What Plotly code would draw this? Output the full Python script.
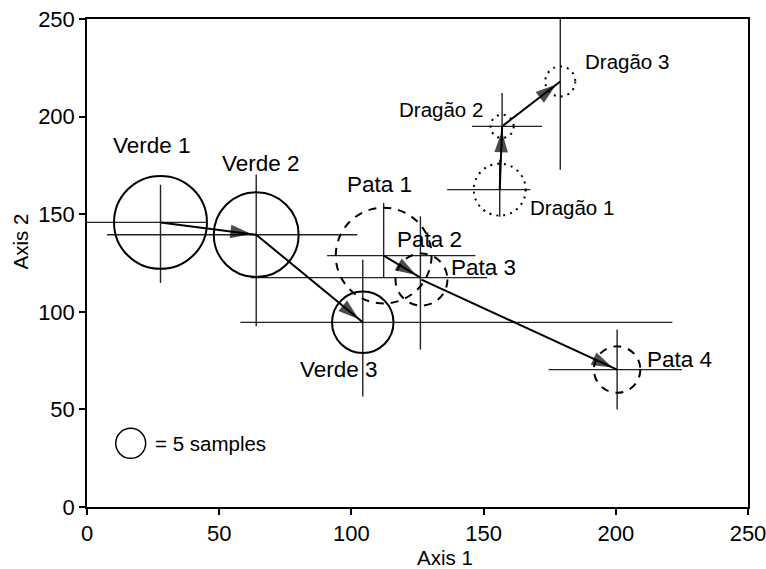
import math
import plotly.graph_objects as go

# ---------------- data ----------------
groups = ["Verde 1", "Verde 2", "Verde 3",
          "Pata 1", "Pata 2", "Pata 3", "Pata 4",
          "Dragão 1", "Dragão 2", "Dragão 3"]
site = ["Verde"] * 3 + ["Pata"] * 4 + ["Dragão"] * 3
axis1_mean = [27.8, 64.0, 104.3, 112.2, 126.1, 126.5, 200.5, 156.1, 157.0, 179.0]
axis2_mean = [145.8, 139.5, 94.6, 128.8, 117.5, 116.5, 70.4, 162.6, 195.0, 218.0]
axis1_low = [0.0, 7.6, 58.0, 90.8, 61.8, None, 174.6, 136.2, 145.6, None]
axis1_high = [45.4, 102.2, 221.4, 146.9, 151.4, None, 225.0, 167.7, 172.1, None]
axis2_low = [114.8, 92.6, 56.6, 117.4, 80.6, None, 49.9, 148.7, 188.0, 172.8]
axis2_high = [165.1, 170.3, 126.7, 155.8, 148.9, None, 90.9, 177.9, 212.1, 250.0]
n_samples = [48, 40, 21, 51, None, 15, 12, 15, 3, 5]
transitions = [("Verde 1", "Verde 2"), ("Verde 2", "Verde 3"),
               ("Pata 1", "Pata 2"), ("Pata 3", "Pata 4"),
               ("Dragão 1", "Dragão 2"), ("Dragão 2", "Dragão 3")]
legend_n = 5
axis_ticks = [0, 50, 100, 150, 200, 250]

# ---------------- styling ----------------
W, H = 766, 569
ML, MR, MT, MB = 87, 18, 19, 62
PW, PH = W - ML - MR, H - MT - MB
XR, YR = (0, 250), (0, 250)
px_x = PW / (XR[1] - XR[0])
px_y = PH / (YR[1] - YR[0])
R5 = 15.0  # circle radius (px) for 5 samples
FONT = "Liberation Sans, Arial, Helvetica, sans-serif"
circle_dash = {"Verde": "solid", "Pata": "8px,7px", "Dragão": "2px,5px"}
label_font = {"Verde": 22.5, "Pata": 22.5, "Dragão": 20.5}
label_shift = {  # (xshift, yshift) in px from group mean
    "Verde 1": (-9, 77), "Verde 2": (5, 71), "Verde 3": (-24, -47),
    "Pata 1": (-4, 71), "Pata 2": (9, 38), "Pata 3": (62, 12), "Pata 4": (62, 10),
    "Dragão 1": (72, -18), "Dragão 2": (-61, 17), "Dragão 3": (67, 20),
}


def radius_px(n):
    return R5 * math.sqrt(n / legend_n)


fig = go.Figure()

# cross-hair bars (ranges on each axis)
bx, by = [], []
for i in range(len(groups)):
    if axis1_low[i] is not None:
        bx += [axis1_low[i], axis1_high[i], None]
        by += [axis2_mean[i], axis2_mean[i], None]
    if axis2_low[i] is not None:
        bx += [axis1_mean[i], axis1_mean[i], None]
        by += [axis2_low[i], axis2_high[i], None]
fig.add_trace(go.Scatter(x=bx, y=by, mode="lines",
                         line=dict(color="#222222", width=1.4),
                         hoverinfo="skip", showlegend=False))

# circles proportional to sample size
shapes = []
for i, g in enumerate(groups):
    n = n_samples[i]
    if n is None:
        continue
    r = radius_px(n)
    rx, ry = r / px_x, r / px_y
    shapes.append(dict(type="circle", xref="x", yref="y",
                       x0=axis1_mean[i] - rx, x1=axis1_mean[i] + rx,
                       y0=axis2_mean[i] - ry, y1=axis2_mean[i] + ry,
                       line=dict(color="black", width=2, dash=circle_dash[site[i]])))

# legend circle
lx, ly = 0.0661, 0.1305
lr = radius_px(legend_n)
shapes.append(dict(type="circle", xref="paper", yref="paper",
                   x0=lx - lr / PW, x1=lx + lr / PW, y0=ly - lr / PH, y1=ly + lr / PH,
                   line=dict(color="black", width=1.5)))

# arrows between consecutive samplings
idx = {g: i for i, g in enumerate(groups)}
for a, b in transitions:
    i, j = idx[a], idx[b]
    fig.add_trace(go.Scatter(
        x=[axis1_mean[i], axis1_mean[j]], y=[axis2_mean[i], axis2_mean[j]],
        mode="lines+markers",
        line=dict(color="black", width=2, backoff=0),
        marker=dict(symbol=["circle", "arrow"], size=[0, 22], color="black",
                    angleref="previous", standoff=5, line=dict(width=0)),
        hoverinfo="skip", showlegend=False))

annotations = []
for i, g in enumerate(groups):
    dx, dy = label_shift[g]
    annotations.append(dict(x=axis1_mean[i], y=axis2_mean[i], xref="x", yref="y",
                            text=g, showarrow=False, xshift=dx, yshift=dy,
                            xanchor="center", yanchor="middle",
                            font=dict(family=FONT, size=label_font[site[i]], color="black")))

annotations.append(dict(x=0.0998, y=ly, xref="paper", yref="paper", xanchor="left",
                        yanchor="middle", text=f"= {legend_n} samples", showarrow=False,
                        font=dict(family=FONT, size=20.5, color="black")))
annotations.append(dict(x=0.5416, y=-0.1025, xref="paper", yref="paper",
                        xanchor="center", yanchor="middle",
                        text="Axis 1", showarrow=False,
                        font=dict(family=FONT, size=20.5, color="black")))
annotations.append(dict(x=-0.1003, y=0.5437, xref="paper", yref="paper",
                        xanchor="center", yanchor="middle",
                        text="Axis 2", showarrow=False, textangle=-90,
                        font=dict(family=FONT, size=20.5, color="black")))

axis_style = dict(range=list(XR), tickvals=axis_ticks, ticks="outside", ticklen=6,
                  tickwidth=1.5, tickcolor="black", showline=True, linecolor="black",
                  linewidth=1.5, mirror=True, showgrid=False, zeroline=False,
                  automargin=False, ticklabeloverflow="allow",
                  tickfont=dict(family=FONT, size=22, color="black"))

fig.update_layout(
    width=W, height=H,
    margin=dict(l=ML, r=MR, t=MT, b=MB, autoexpand=False),
    paper_bgcolor="white", plot_bgcolor="white",
    xaxis=dict(axis_style, range=list(XR)),
    yaxis=dict(axis_style, range=list(YR)),
    shapes=shapes, annotations=annotations,
    font=dict(family=FONT, color="black"),
    showlegend=False,
)

fig.write_html("out.html", config={"displayModeBar": False},
               post_script="document.body.style.margin='0';document.body.style.overflow='hidden';")
